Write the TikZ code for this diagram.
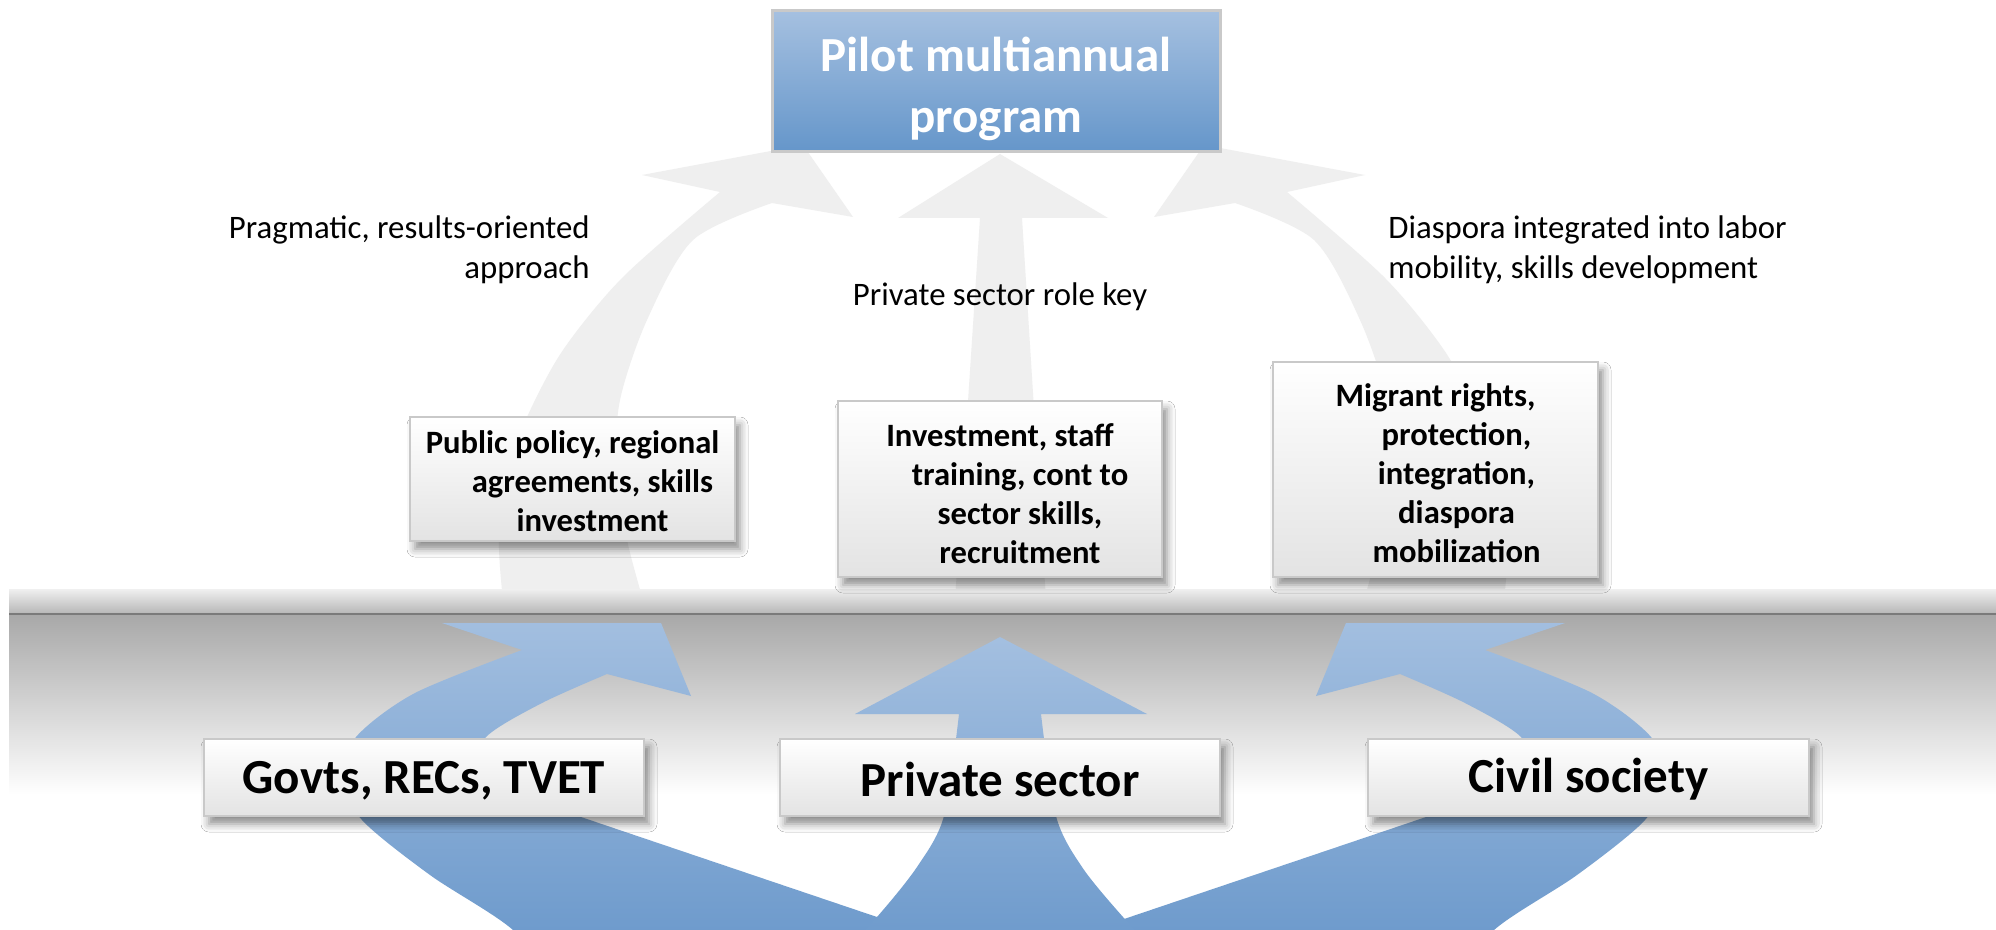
\documentclass[tikz,border=0pt]{standalone}
\usepackage{fontspec}
\setmainfont{Carlito}
\usetikzlibrary{shadows.blur}
\definecolor{arrowgrey}{HTML}{EFEFEF}
\definecolor{bluetop}{HTML}{A6C1E1}
\definecolor{bluebot}{HTML}{6393C8}
\definecolor{topboxtop}{HTML}{A5C0E0}
\definecolor{topboxbot}{HTML}{6596CA}
\definecolor{boxborder}{HTML}{C9C9C9}
\definecolor{boxbot}{HTML}{E3E3E3}
\definecolor{floortop}{HTML}{F0F0F0}
\definecolor{floormid}{HTML}{B8B8B8}
\definecolor{floorline}{HTML}{7A7A7A}
\definecolor{floorlow}{HTML}{A8A8A8}
\begin{document}
\begin{tikzpicture}[x=0.5pt,y=-0.5pt,
  greyarrow/.style={fill=arrowgrey},
  bluearrow/.style={path picture={\shade[top color=bluetop,bottom color=bluebot] (-20,623) rectangle (2030,930);}},
  bigfont/.style={font=\bfseries\fontsize{24.5pt}{30.5pt}\selectfont},
  midfont/.style={font=\bfseries\fontsize{16.3pt}{19.5pt}\selectfont},
  annfont/.style={font=\fontsize{16.4pt}{20pt}\selectfont},
  wbox/.style={draw=boxborder, line width=1.2pt, top color=white, bottom color=boxbot,
    blur shadow={shadow xshift=2.5pt, shadow yshift=-4pt, shadow blur radius=4pt, shadow opacity=45},
    align=center, inner sep=0pt},
  topbox/.style={draw=boxborder, line width=1.5pt, top color=topboxtop, bottom color=topboxbot,
    text=white, align=center, inner sep=0pt, bigfont},
  ann/.style={annfont, inner sep=0pt}
]
\useasboundingbox (0,0) rectangle (1996,930);
\fill[white] (0,0) rectangle (1996,930);

% grey arrows
\fill[greyarrow] plot[smooth] coordinates {(503,600) (499,540) (508,470) (527,417) (563,350) (623,277) (720,192)}
  -- (642,175) -- (803,145) -- (853,217) -- (772,203)
  -- plot[smooth] coordinates {(772,203) (693,240) (647,320) (620,400) (616,470) (627,540) (643,600)} -- cycle;
\begin{scope}[xshift=1003.5pt, xscale=-1]
\fill[greyarrow] plot[smooth] coordinates {(503,600) (499,540) (508,470) (527,417) (563,350) (623,277) (720,192)}
  -- (642,175) -- (803,145) -- (853,217) -- (772,203)
  -- plot[smooth] coordinates {(772,203) (693,240) (647,320) (620,400) (616,470) (627,540) (643,600)} -- cycle;
\end{scope}
\fill[greyarrow] (1000,154) -- (1108,218) -- (1022,218) -- (1046,600) -- (955,600) -- (980,218) -- (898,218) -- cycle;

% floor
\shade[top color=floortop, bottom color=floormid] (9,589) rectangle (1996,613);
\shade[top color=floorlow, bottom color=white] (9,614) rectangle (1996,795);
\draw[floorline, line width=0.7pt] (9,614) -- (1996,614);

% blue arrows
\begin{scope}
\clip (0,623) rectangle (1996,930);
\path[bluearrow] plot[smooth] coordinates {(560,990) (513,930) (430,875) (362,820) (343,778) (356,737) (415,693) (522,650)}
  -- (430,619) -- (652,601) -- (691,696) -- (607,674)
  -- plot[smooth] coordinates {(607,674) (542,703) (486,737) (472,775) (505,803) (578,816)}
  -- (877,917) -- (1000,958) -- (1000,1000) -- cycle;
\begin{scope}[xshift=1003.5pt, xscale=-1]
\path[bluearrow] plot[smooth] coordinates {(560,990) (513,930) (430,875) (362,820) (343,778) (356,737) (415,693) (522,650)}
  -- (430,619) -- (652,601) -- (691,696) -- (607,674)
  -- plot[smooth] coordinates {(607,674) (542,703) (486,737) (472,775) (505,803) (578,816)}
  -- (877,917) -- (1000,958) -- (1000,1000) -- cycle;
\end{scope}
\path[bluearrow] (1000,637) -- (1147,714) -- (1041,714)
  -- plot[smooth] coordinates {(1041,714) (1056,816) (1082,867) (1123,917) (1160,955)}
  -- (1180,1000) -- (820,1000) -- (840,955)
  -- plot[smooth] coordinates {(840,955) (877,917) (917,867) (944,816) (959,714)}
  -- (855,714) -- cycle;
\end{scope}

% boxes
\node[topbox, minimum width=224pt, minimum height=70.5pt] (top) at (996,81.5) {\rule{0pt}{25pt}Pilot multiannual\\program};

\node[wbox, midfont, minimum width=162.5pt, minimum height=62pt] (pub) at (572.5,479)
  {\rule{0pt}{14pt}Public policy, regional\\\hspace*{20pt}agreements, skills\\\hspace*{20pt}investment};
\node[wbox, midfont, minimum width=162pt, minimum height=88pt] (inv) at (1000,489)
  {\rule{0pt}{16pt}Investment, staff\\\hspace*{20pt}training, cont to\\\hspace*{20pt}sector skills,\\\hspace*{20pt}recruitment};
\node[wbox, midfont, minimum width=162.5pt, minimum height=107.5pt] (mig) at (1435.5,469.5)
  {\rule{0pt}{15pt}Migrant rights,\\\hspace*{21pt}protection,\\\hspace*{21pt}integration,\\\hspace*{21pt}diaspora\\\hspace*{21pt}mobilization};

\node[wbox, bigfont, minimum width=220pt, minimum height=38.5pt] (gov) at (424,777.5) {\rule{0pt}{19pt}Govts, RECs, TVET};
\node[wbox, bigfont, minimum width=220pt, minimum height=38.5pt] (priv) at (1000,777.5) {\rule{0pt}{19pt}Private sector};
\node[wbox, bigfont, minimum width=220.5pt, minimum height=38.5pt] (civ) at (1588.5,777.5) {\rule{0pt}{19pt}Civil society};

% annotations
\node[ann, align=right, anchor=base east] (a1) at (590,279) {Pragmatic, results-oriented\\approach};
\node[ann, anchor=base] (a2) at (1000,306) {Private sector role key};
\node[ann, align=left, anchor=base west] (a3) at (1388,279) {Diaspora integrated into labor\\mobility, skills development};
\end{tikzpicture}
\end{document}
